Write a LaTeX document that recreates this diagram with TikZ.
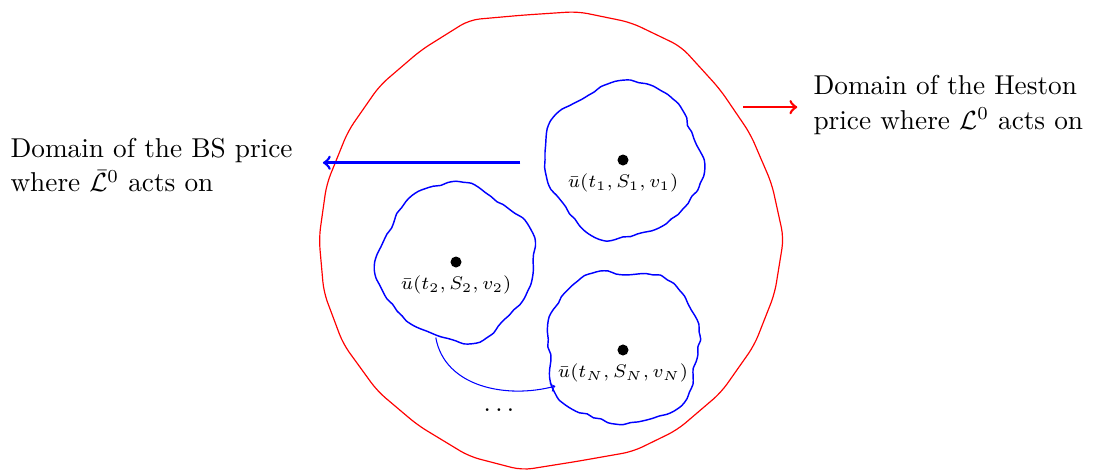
\documentclass[tikz,border=0pt]{standalone}
\usetikzlibrary{positioning}
\begin{document}
\begin{tikzpicture}[x=0.0134cm, y=-0.0134cm,
    region/.style={circle, inner sep=0pt},
    hestonline/.style={draw=red, line width=0.45pt, rounded corners=4pt},
    bsline/.style={draw=blue, line width=0.55pt},
    pricept/.style={circle, fill=black, inner sep=0pt, minimum size=4.2pt},
    pricelabel/.style={font=\scriptsize, inner sep=1pt},
    domtext/.style={align=left, font=\fontsize{10.4}{13.3}\selectfont, inner sep=0pt},
    domarrow/.style={->, line width=1pt}]
    \pgfmathsetseed{4711}
    \useasboundingbox (0,0) rectangle (1115,470);

    % Domains
    \node[region, minimum size=6.1cm] (outer) at (550,238) {};
    \node[region, minimum size=2.08cm] (b1) at (623,160) {};
    \node[region, minimum size=2.08cm] (b2) at (456,262) {};
    \node[region, minimum size=2.08cm] (bN) at (623,347) {};
    \draw[hestonline, shift={(outer.center)}] plot[samples=26, domain=0:346.15] (\x:{229+5*(2*rnd-1)}) -- cycle;
    \foreach \b/\ph in {b1/20, b2/140, bN/260}
      \draw[bsline, shift={(\b.center)}] plot[smooth cycle, samples=64, domain=0:354.375]
        (\x:{78+3*sin(4*\x+\ph)+2*sin(7*\x+2*\ph)+1.2*(2*rnd-1)});

    % Prices
    \node[pricept] (p1) at (b1.center) {};
    \node[pricept] (p2) at (b2.center) {};
    \node[pricept] (pN) at ([yshift=-0.04cm]bN.center) {};
    \node[pricelabel, below=0.6mm of p1] (l1) {$\bar u(t_1,S_1,v_1)$};
    \node[pricelabel, below=0.6mm of p2] (l2) {$\bar u(t_2,S_2,v_2)$};
    \node[pricelabel, below=0.6mm of pN] (lN) {$\bar u(t_N,S_N,v_N)$};
    \node (gap) at (499,410) {$\ldots$};

    % Descriptions
    \node[domtext, anchor=west] (hestondom) at (813,105) {Domain of the Heston\\price where $\mathcal{L}^0$ acts on};
    \node[domtext, anchor=west] (bsdom) at (10,165) {Domain of the BS price\\where $\bar{\mathcal{L}}^0$ acts on};

    % Arrows
    \draw[domarrow, red, shorten <=2.5pt, shorten >=6pt] (outer.35) -- (outer.35 -| hestondom.west);
    \draw[domarrow, blue, shorten <=0.33cm, shorten >=0.4cm] (b1.182) -- (b1.182 -| bsdom.east);
    \draw[->, blue] (b2.-105) to[out=-80, in=195] (bN.-150);
\end{tikzpicture}
\end{document}
